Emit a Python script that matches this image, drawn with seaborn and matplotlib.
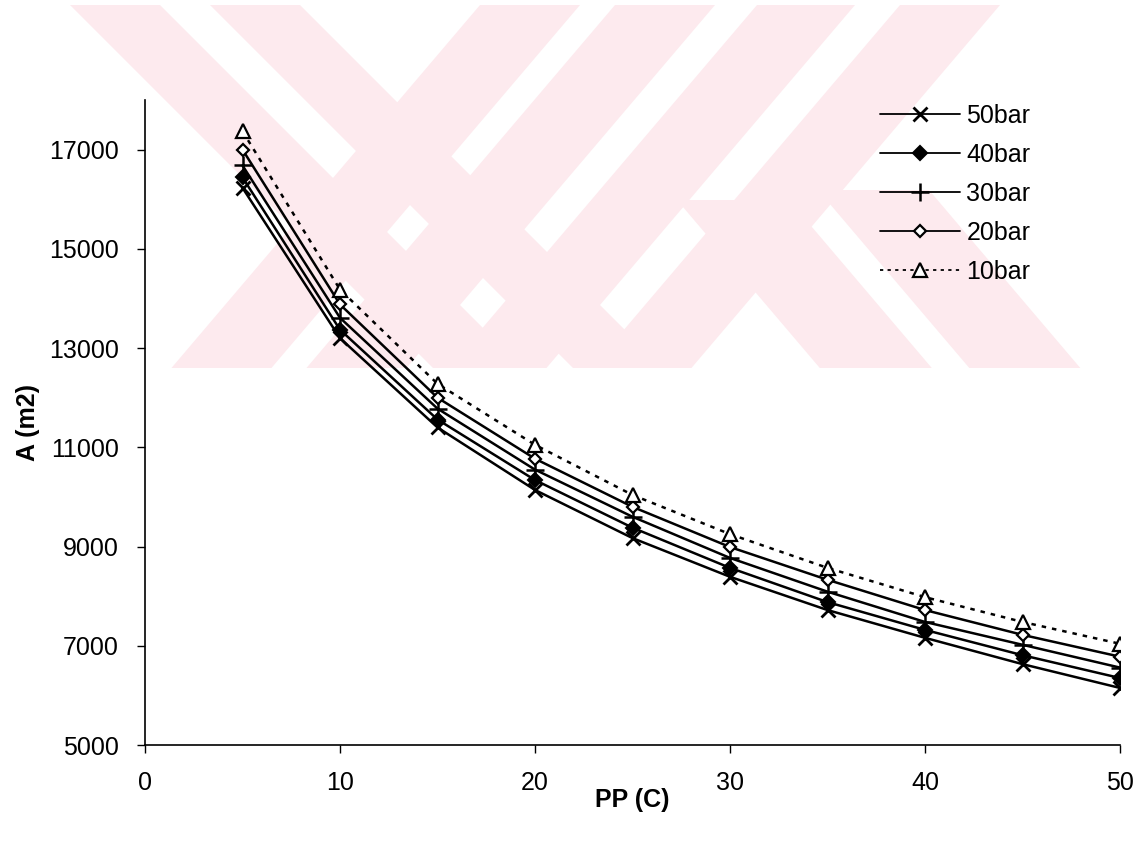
import numpy as np
import pandas as pd
import matplotlib
matplotlib.use("Agg")
import matplotlib.pyplot as plt
from matplotlib.patches import Polygon, Rectangle
import seaborn as sns

# ---- data ----
pp = [5, 10, 15, 20, 25, 30, 35, 40, 45, 50]
bar50 = [16230, 13200, 11400, 10140, 9170, 8390, 7720, 7160, 6630, 6150]
bar40 = [16440, 13370, 11560, 10340, 9380, 8570, 7880, 7320, 6810, 6350]
bar30 = [16680, 13610, 11780, 10550, 9600, 8770, 8090, 7480, 7020, 6560]
bar20 = [17000, 13880, 12000, 10770, 9800, 8990, 8330, 7720, 7220, 6780]
bar10 = [17370, 14180, 12280, 11050, 10040, 9250, 8570, 7980, 7480, 7040]
series_names = ["50bar", "40bar", "30bar", "20bar", "10bar"]
x_ticks = [0, 10, 20, 30, 40, 50]
y_ticks = [5000, 7000, 9000, 11000, 13000, 15000, 17000]

sns.set_theme(style="white")
plt.rcParams["font.family"] = ["Liberation Sans", "DejaVu Sans"]

fig = plt.figure(figsize=(11.43, 8.46), dpi=100)

# ---- background watermark (pixel coordinates) ----
bg = fig.add_axes([0, 0, 1, 1], zorder=0)
bg.set_xlim(0, 1143)
bg.set_ylim(846, 0)
bg.axis("off")
clip = Rectangle((32, 5), 1055, 363, transform=bg.transData, facecolor="none", edgecolor="none")
bg.add_patch(clip)
pink = "#fdeaee"

def band(xl, xr, y0, y1, s):
    d = s * (y1 - y0)
    return [(xl, y0), (xr, y0), (xr + d, y1), (xl + d, y1)]

bands = [
    band(70, 160, 5, 368, 1.0),
    band(210, 300, 5, 368, 1.0),
    band(480, 580, 5, 368, -0.85),
    band(615, 715, 5, 368, -0.85),
    band(757, 855, 5, 368, -0.85),
    band(900, 1000, 5, 368, -0.85),
    band(677, 789, 200, 368, 0.85),
    band(818, 929, 190, 368, 0.85),
]
for b in bands:
    p = Polygon(b, closed=True, facecolor=pink, edgecolor="none")
    bg.add_patch(p)
    p.set_clip_path(clip)

# ---- main axes ----
L, R, T, B = 145, 1120, 100, 745
ax = fig.add_axes([L / 1143, 1 - B / 846, (R - L) / 1143, (B - T) / 846], zorder=1)
ax.set_facecolor("none")

styles = {
    "50bar": dict(marker="x", ms=10, mew=2.0, mfc="black", ls="-"),
    "40bar": dict(marker="D", ms=7.5, mew=1.5, mfc="black", ls="-"),
    "30bar": dict(marker="+", ms=13, mew=1.8, mfc="black", ls="-"),
    "20bar": dict(marker="D", ms=6.5, mew=1.6, mfc="white", ls="-"),
    "10bar": dict(marker="^", ms=10, mew=1.6, mfc="white", ls=(0, (1.8, 2.4))),
}
data = {"50bar": bar50, "40bar": bar40, "30bar": bar30, "20bar": bar20, "10bar": bar10}

for name in series_names:
    st = styles[name]
    sns.lineplot(x=pp, y=data[name], ax=ax, color="black", linewidth=1.8,
                 marker=st["marker"], markersize=st["ms"], markeredgewidth=st["mew"],
                 markerfacecolor=st["mfc"], markeredgecolor="black",
                 linestyle=st["ls"], label=name)

ax.set_xlim(0, 50)
ax.set_ylim(5000, 18000)
ax.set_xticks(x_ticks)
ax.set_yticks(y_ticks)
ax.tick_params(axis="both", which="major", labelsize=18, colors="black",
               direction="out", length=6, width=1, left=True, bottom=True)
ax.tick_params(axis="x", pad=13)
ax.tick_params(axis="y", pad=13)
for s in ["top", "right"]:
    ax.spines[s].set_visible(False)
for s in ["left", "bottom"]:
    ax.spines[s].set_color("black")
    ax.spines[s].set_linewidth(1.2)
ax.grid(False)

ax.set_xlabel("PP (C)", fontsize=18, fontweight="bold", color="black")
ax.set_ylabel("A (m2)", fontsize=18, fontweight="bold", color="black")
ax.xaxis.set_label_coords(0.5, (B - 788) / (B - T))
ax.yaxis.set_label_coords((40 - L) / (R - L), 0.5)

leg = ax.legend(loc="upper left", bbox_to_anchor=(880 / 1143, 1 - 104 / 846),
                bbox_transform=fig.transFigure, frameon=False, fontsize=18,
                handlelength=3.2, handletextpad=0.25, labelspacing=0.6,
                borderpad=0, borderaxespad=0)
for line in leg.get_lines():
    line.set_linewidth(1.3)
for t in leg.get_texts():
    t.set_color("black")

fig.savefig("out.png", dpi=100)
